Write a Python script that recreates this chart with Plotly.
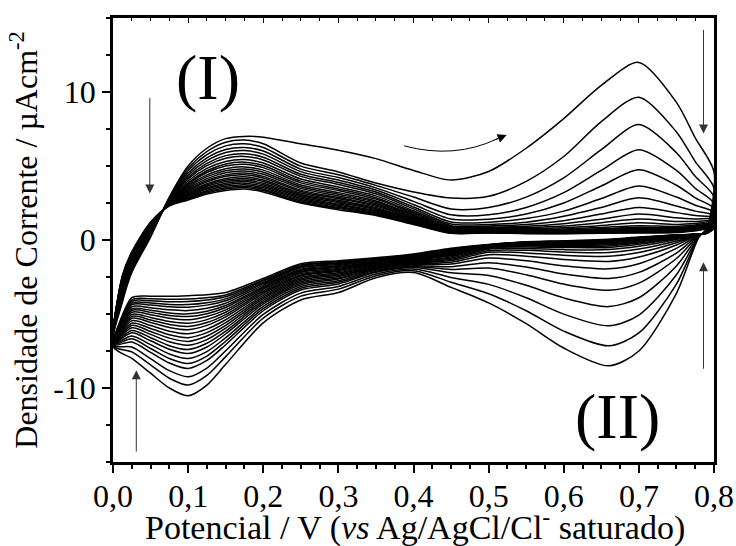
import plotly.graph_objects as go

# ---------------- data ----------------
# 24 successive voltammetric cycles, ordered from the first (outermost) to the last (innermost)
n_cycles = 24

# anodic sweep potentials (V) and current density (uA cm-2); each row = all cycles at that potential
E_anodic = [0.0, 0.0125, 0.025, 0.05, 0.075, 0.1, 0.125, 0.15, 0.175, 0.2, 0.25, 0.3,
            0.35, 0.4, 0.45, 0.5, 0.55, 0.6, 0.65, 0.7, 0.75, 0.775, 0.8]
I_anodic = [
    [-7.2, -7.16, -7.12, -7.07, -7.04, -7.0, -6.97, -6.94, -6.91, -6.88, -6.85, -6.83, -6.8, -6.78, -6.76, -6.74, -6.72, -6.7, -6.68, -6.67, -6.65, -6.63, -6.62, -6.6],
    [-4.2, -4.07, -3.95, -3.82, -3.71, -3.61, -3.52, -3.41, -3.32, -3.25, -3.16, -3.08, -3.01, -2.94, -2.89, -2.81, -2.76, -2.71, -2.65, -2.6, -2.54, -2.49, -2.45, -2.4],
    [-2.2, -2.1, -2.0, -1.91, -1.82, -1.74, -1.67, -1.58, -1.51, -1.46, -1.39, -1.33, -1.28, -1.22, -1.18, -1.12, -1.08, -1.04, -1.0, -0.95, -0.91, -0.87, -0.84, -0.8],
    [0.2, 0.27, 0.34, 0.41, 0.47, 0.53, 0.58, 0.64, 0.69, 0.73, 0.78, 0.82, 0.86, 0.9, 0.93, 0.97, 1.0, 1.03, 1.06, 1.09, 1.12, 1.15, 1.18, 1.2],
    [2.9, 2.86, 2.82, 2.77, 2.74, 2.7, 2.67, 2.64, 2.61, 2.58, 2.55, 2.53, 2.5, 2.48, 2.46, 2.44, 2.42, 2.4, 2.38, 2.37, 2.35, 2.33, 2.32, 2.3],
    [5.0, 4.84, 4.68, 4.52, 4.38, 4.24, 4.13, 3.99, 3.87, 3.78, 3.67, 3.57, 3.48, 3.39, 3.32, 3.23, 3.16, 3.09, 3.02, 2.95, 2.88, 2.82, 2.76, 2.7],
    [6.2, 5.98, 5.77, 5.55, 5.36, 5.18, 5.02, 4.84, 4.68, 4.56, 4.4, 4.28, 4.15, 4.03, 3.94, 3.81, 3.72, 3.63, 3.53, 3.44, 3.35, 3.26, 3.18, 3.1],
    [6.85, 6.61, 6.36, 6.12, 5.91, 5.7, 5.52, 5.31, 5.14, 5.0, 4.82, 4.68, 4.54, 4.4, 4.3, 4.16, 4.05, 3.95, 3.84, 3.74, 3.63, 3.53, 3.44, 3.35],
    [7.0, 6.75, 6.5, 6.25, 6.04, 5.83, 5.65, 5.44, 5.26, 5.12, 4.94, 4.8, 4.66, 4.52, 4.41, 4.27, 4.16, 4.05, 3.95, 3.84, 3.73, 3.63, 3.54, 3.45],
    [6.95, 6.5, 6.25, 6.01, 5.8, 5.59, 5.41, 5.2, 5.03, 4.89, 4.72, 4.58, 4.44, 4.3, 4.19, 4.05, 3.95, 3.84, 3.74, 3.63, 3.53, 3.43, 3.34, 3.25],
    [6.5, 5.2, 4.99, 4.79, 4.62, 4.44, 4.3, 4.12, 3.98, 3.86, 3.72, 3.6, 3.49, 3.37, 3.28, 3.17, 3.08, 2.99, 2.91, 2.82, 2.73, 2.65, 2.57, 2.5],
    [6.07, 4.6, 4.41, 4.22, 4.05, 3.89, 3.75, 3.58, 3.45, 3.34, 3.2, 3.09, 2.98, 2.87, 2.79, 2.68, 2.6, 2.52, 2.43, 2.35, 2.27, 2.19, 2.12, 2.05],
    [5.5, 3.85, 3.69, 3.52, 3.38, 3.24, 3.12, 2.98, 2.86, 2.76, 2.64, 2.55, 2.45, 2.36, 2.29, 2.19, 2.12, 2.05, 1.98, 1.91, 1.84, 1.77, 1.71, 1.65],
    [4.7, 3.25, 2.9, 2.61, 2.4, 2.23, 2.1, 1.98, 1.88, 1.8, 1.71, 1.65, 1.58, 1.52, 1.47, 1.4, 1.36, 1.31, 1.27, 1.22, 1.18, 1.13, 1.09, 1.05],
    [4.05, 2.84, 2.1, 1.7, 1.42, 1.22, 1.08, 0.97, 0.89, 0.83, 0.78, 0.74, 0.7, 0.67, 0.64, 0.61, 0.59, 0.57, 0.55, 0.53, 0.51, 0.49, 0.47, 0.45],
    [4.63, 2.95, 2.2, 1.7, 1.4, 1.2, 1.05, 0.95, 0.88, 0.82, 0.77, 0.73, 0.7, 0.67, 0.65, 0.63, 0.61, 0.59, 0.57, 0.55, 0.53, 0.51, 0.49, 0.47],
    [6.2, 3.96, 2.9, 2.2, 1.75, 1.45, 1.2, 1.05, 0.93, 0.85, 0.77, 0.71, 0.67, 0.64, 0.61, 0.59, 0.57, 0.55, 0.53, 0.51, 0.49, 0.47, 0.45, 0.43],
    [8.2, 5.64, 4.2, 3.2, 2.5, 1.95, 1.6, 1.3, 1.1, 0.95, 0.83, 0.74, 0.68, 0.64, 0.61, 0.58, 0.56, 0.54, 0.52, 0.5, 0.48, 0.46, 0.44, 0.42],
    [10.45, 8.0, 6.1, 4.7, 3.65, 2.8, 2.2, 1.75, 1.4, 1.17, 0.98, 0.85, 0.76, 0.7, 0.66, 0.62, 0.59, 0.57, 0.55, 0.53, 0.51, 0.49, 0.47, 0.45],
    [12.0, 9.65, 7.8, 6.1, 4.75, 3.65, 2.85, 2.2, 1.75, 1.42, 1.16, 0.97, 0.86, 0.79, 0.73, 0.68, 0.64, 0.61, 0.58, 0.56, 0.54, 0.52, 0.5, 0.48],
    [9.3, 7.3, 5.9, 4.7, 3.7, 2.9, 2.3, 1.85, 1.5, 1.25, 1.05, 0.92, 0.83, 0.77, 0.72, 0.68, 0.65, 0.62, 0.6, 0.58, 0.56, 0.54, 0.52, 0.5],
    [6.9, 5.3, 4.3, 3.5, 2.85, 2.35, 1.95, 1.65, 1.42, 1.25, 1.12, 1.02, 0.95, 0.89, 0.85, 0.81, 0.78, 0.75, 0.73, 0.71, 0.69, 0.67, 0.65, 0.63],
    [4.6, 3.5, 2.9, 2.45, 2.1, 1.85, 1.65, 1.5, 1.38, 1.28, 1.2, 1.13, 1.07, 1.02, 0.98, 0.95, 0.92, 0.9, 0.88, 0.86, 0.84, 0.82, 0.8, 0.78],
]

# cathodic sweep potentials (V) and current density (uA cm-2)
E_cathodic = [0.79, 0.78, 0.75, 0.7, 0.66, 0.6, 0.55, 0.5, 0.45, 0.4, 0.35, 0.3, 0.25,
              0.2, 0.15, 0.125, 0.1, 0.075, 0.05, 0.025, 0.0]
I_cathodic = [
    [0.75, 0.7, 0.66, 0.61, 0.57, 0.54, 0.52, 0.5, 0.49, 0.48, 0.47, 0.47, 0.47, 0.46, 0.46, 0.46, 0.46, 0.46, 0.45, 0.45, 0.45, 0.45, 0.45, 0.45],
    [0.2, 0.23, 0.26, 0.29, 0.32, 0.34, 0.35, 0.37, 0.37, 0.38, 0.38, 0.39, 0.39, 0.39, 0.39, 0.39, 0.4, 0.4, 0.4, 0.4, 0.4, 0.4, 0.4, 0.4],
    [-3.6, -2.98, -2.35, -1.75, -1.25, -0.88, -0.57, -0.34, -0.18, -0.07, 0.03, 0.1, 0.14, 0.18, 0.21, 0.24, 0.26, 0.28, 0.29, 0.3, 0.32, 0.33, 0.33, 0.35],
    [-7.5, -6.28, -5.07, -3.9, -2.91, -2.19, -1.6, -1.15, -0.84, -0.61, -0.43, -0.29, -0.21, -0.13, -0.08, -0.02, 0.02, 0.05, 0.08, 0.11, 0.14, 0.15, 0.17, 0.2],
    [-8.5, -7.15, -5.8, -4.5, -3.4, -2.6, -1.95, -1.45, -1.1, -0.85, -0.65, -0.5, -0.4, -0.32, -0.26, -0.2, -0.15, -0.11, -0.08, -0.05, -0.02, 0.0, 0.02, 0.05],
    [-7.3, -6.16, -5.01, -3.91, -2.98, -2.3, -1.75, -1.32, -1.03, -0.81, -0.65, -0.51, -0.43, -0.36, -0.31, -0.26, -0.22, -0.19, -0.16, -0.14, -0.11, -0.09, -0.08, -0.05],
    [-5.65, -4.78, -3.9, -3.06, -2.35, -1.83, -1.41, -1.09, -0.87, -0.7, -0.57, -0.47, -0.41, -0.36, -0.32, -0.28, -0.25, -0.23, -0.2, -0.19, -0.16, -0.15, -0.14, -0.12],
    [-4.25, -3.63, -3.0, -2.4, -1.9, -1.53, -1.22, -0.99, -0.83, -0.72, -0.62, -0.55, -0.51, -0.47, -0.44, -0.42, -0.39, -0.38, -0.36, -0.35, -0.33, -0.32, -0.32, -0.3],
    [-3.2, -2.85, -2.53, -2.22, -1.99, -1.8, -1.63, -1.5, -1.39, -1.3, -1.22, -1.14, -1.07, -1.02, -0.96, -0.91, -0.86, -0.82, -0.77, -0.72, -0.68, -0.64, -0.6, -0.55],
    [-2.2, -2.07, -1.96, -1.86, -1.8, -1.74, -1.67, -1.62, -1.57, -1.52, -1.48, -1.43, -1.38, -1.34, -1.29, -1.25, -1.21, -1.18, -1.14, -1.09, -1.06, -1.02, -0.99, -0.95],
    [-2.55, -2.41, -2.3, -2.18, -2.12, -2.05, -1.98, -1.93, -1.87, -1.82, -1.77, -1.71, -1.66, -1.62, -1.57, -1.53, -1.48, -1.45, -1.4, -1.36, -1.32, -1.28, -1.25, -1.2],
    [-3.55, -3.32, -3.14, -2.97, -2.86, -2.75, -2.64, -2.56, -2.47, -2.38, -2.3, -2.22, -2.13, -2.06, -1.99, -1.92, -1.85, -1.79, -1.72, -1.65, -1.59, -1.53, -1.47, -1.4],
    [-4.05, -3.79, -3.59, -3.38, -3.26, -3.14, -3.02, -2.92, -2.82, -2.72, -2.63, -2.53, -2.43, -2.36, -2.27, -2.19, -2.11, -2.05, -1.97, -1.88, -1.82, -1.75, -1.68, -1.6],
    [-5.6, -5.28, -5.03, -4.78, -4.64, -4.49, -4.33, -4.21, -4.09, -3.97, -3.86, -3.74, -3.62, -3.52, -3.43, -3.32, -3.23, -3.15, -3.05, -2.95, -2.87, -2.78, -2.7, -2.6],
    [-8.4, -7.88, -7.48, -7.08, -6.84, -6.6, -6.35, -6.16, -5.96, -5.77, -5.59, -5.39, -5.2, -5.04, -4.88, -4.72, -4.56, -4.43, -4.27, -4.11, -3.98, -3.84, -3.71, -3.55],
    [-9.8, -9.15, -8.65, -8.14, -7.84, -7.54, -7.23, -6.98, -6.73, -6.49, -6.26, -6.02, -5.77, -5.58, -5.38, -5.17, -4.98, -4.81, -4.61, -4.4, -4.24, -4.06, -3.9, -3.7],
    [-10.52, -9.8, -9.24, -8.68, -8.35, -8.01, -7.67, -7.4, -7.11, -6.85, -6.6, -6.33, -6.06, -5.84, -5.62, -5.39, -5.17, -4.99, -4.77, -4.54, -4.36, -4.16, -3.98, -3.76],
    [-10.0, -9.34, -8.83, -8.31, -8.01, -7.7, -7.38, -7.14, -6.88, -6.63, -6.4, -6.16, -5.91, -5.71, -5.51, -5.29, -5.1, -4.93, -4.72, -4.51, -4.35, -4.17, -4.01, -3.8],
    [-9.0, -8.44, -8.02, -7.59, -7.33, -7.07, -6.81, -6.6, -6.38, -6.18, -5.98, -5.78, -5.57, -5.4, -5.23, -5.05, -4.89, -4.75, -4.58, -4.4, -4.26, -4.11, -3.97, -3.8],
    [-8.0, -7.56, -7.23, -6.89, -6.68, -6.48, -6.27, -6.11, -5.93, -5.77, -5.62, -5.46, -5.29, -5.16, -5.03, -4.89, -4.76, -4.65, -4.51, -4.37, -4.27, -4.14, -4.04, -3.9],
    [-7.2, -7.16, -7.12, -7.07, -7.04, -7.0, -6.97, -6.94, -6.91, -6.88, -6.85, -6.83, -6.8, -6.78, -6.76, -6.74, -6.72, -6.7, -6.68, -6.67, -6.65, -6.63, -6.62, -6.6],
]

x_tickvals = [0.0, 0.1, 0.2, 0.3, 0.4, 0.5, 0.6, 0.7, 0.8]
x_ticktext = ["0,0", "0,1", "0,2", "0,3", "0,4", "0,5", "0,6", "0,7", "0,8"]
y_tickvals = [-10, 0, 10]
y_ticktext = ["-10", "0", "10"]
x_title = "Potencial / V (<i>vs</i> Ag/AgCl/Cl<sup>-</sup> saturado)"
y_title = "Densidade de Corrente / µAcm<sup>-2</sup>"

# ---------------- figure ----------------
FONT = "Liberation Serif, Times New Roman, serif"
fig = go.Figure()

for k in range(n_cycles - 1, -1, -1):
    xs = E_anodic + E_cathodic
    ys = [row[k] for row in I_anodic] + [row[k] for row in I_cathodic]
    fig.add_trace(go.Scatter(
        x=xs, y=ys, mode="lines",
        line=dict(color="black", width=1.5, shape="spline", smoothing=0.8),
        hoverinfo="skip", showlegend=False))

# dummy trace so the top mirrored axis (inner ticks) is drawn
fig.add_trace(go.Scatter(x=[None], y=[None], xaxis="x2", showlegend=False, hoverinfo="skip"))

axis_common = dict(showline=True, linecolor="black", linewidth=2.5, showgrid=False,
                   zeroline=False, tickcolor="black", tickwidth=2, automargin=False,
                   tickfont=dict(family=FONT, size=32, color="black"))

fig.update_layout(
    width=736, height=546,
    margin=dict(l=113, r=22, t=18, b=84),
    plot_bgcolor="white", paper_bgcolor="white",
    showlegend=False,
    font=dict(family=FONT, color="black"),
    xaxis=dict(range=[0, 0.8], tickmode="array", tickvals=x_tickvals, ticktext=x_ticktext,
               ticks="outside", ticklen=8, mirror=True, ticklabelstandoff=-4,
               minor=dict(tickmode="linear", tick0=0, dtick=0.025, ticks="outside",
                          ticklen=4, tickwidth=1.5, tickcolor="black"),
               **axis_common),
    xaxis2=dict(range=[0, 0.8], overlaying="x", side="top", anchor="y", showline=False,
                showgrid=False, zeroline=False, showticklabels=False, automargin=False,
                tickmode="array", tickvals=x_tickvals, ticks="inside", ticklen=5,
                tickwidth=1, tickcolor="black",
                minor=dict(tickmode="linear", tick0=0, dtick=0.025, ticks="inside",
                           ticklen=3, tickwidth=1, tickcolor="black")),
    yaxis=dict(range=[-15, 15], tickmode="array", tickvals=y_tickvals, ticktext=y_ticktext,
               ticks="outside", ticklen=8, mirror=True,
               minor=dict(tickmode="linear", tick0=0, dtick=2.5, ticks="outside",
                          ticklen=4, tickwidth=1.5, tickcolor="black"),
               title=dict(text=y_title,
                          font=dict(family=FONT, size=32, color="black"), standoff=6),
               **axis_common),
)

# x-axis title, paper-anchored text near the bottom edge
fig.add_annotation(xref="paper", yref="paper", x=0.503, y=-0.1935, text=x_title,
                   showarrow=False, xanchor="center", yanchor="bottom", borderpad=0,
                   font=dict(family=FONT, size=34, color="black"))

# region labels
fig.add_annotation(x=0.126, y=11.0, text="(I)", showarrow=False,
                   font=dict(family=FONT, size=64, color="black"))
fig.add_annotation(x=0.672, y=-11.9, text="(II)", showarrow=False,
                   font=dict(family=FONT, size=64, color="black"))

# straight arrows (head -> tail)
arrows = [
    (0.049, 3.15, 0.049, 9.7),
    (0.031, -8.8, 0.031, -14.4),
    (0.786, 7.2, 0.786, 14.3),
    (0.786, -1.5, 0.786, -8.8),
]
for hx, hy, tx, ty in arrows:
    fig.add_annotation(x=hx, y=hy, ax=tx, ay=ty, xref="x", yref="y", axref="x", ayref="y",
                       text="", showarrow=True, arrowhead=2, arrowsize=1.8, arrowwidth=1,
                       arrowcolor="#333333")

# curved arrow
fig.add_shape(type="path", xref="x", yref="y",
              path="M 0.3875,6.36 Q 0.455,5.45 0.512,6.85",
              line=dict(color="black", width=1))
fig.add_annotation(x=0.524, y=7.09, ax=0.506, ay=6.72, xref="x", yref="y", axref="x", ayref="y",
                   text="", showarrow=True, arrowhead=2, arrowsize=1.8, arrowwidth=1,
                   arrowcolor="black")

fig.write_html("out.html")
